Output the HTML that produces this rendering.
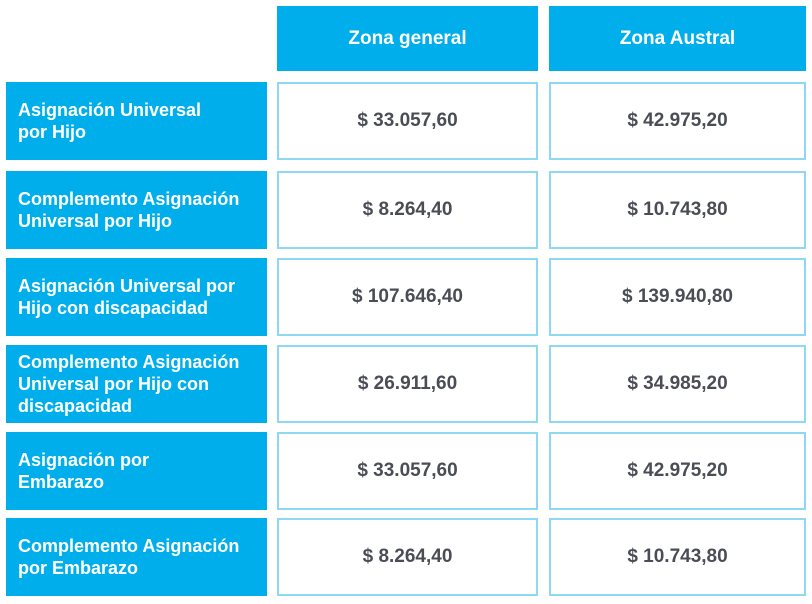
<!DOCTYPE html>
<html><head><meta charset="utf-8"><style>
body{margin:0;width:812px;height:604px;background:#fff;position:relative;font-family:"Liberation Sans",sans-serif;overflow:hidden}
.c{position:absolute;box-sizing:border-box;display:flex;align-items:center}
.h{background:#00aeeb;color:#fff;font-weight:bold;font-size:19px;justify-content:center}
.l{background:#00aeeb;color:#fff;font-weight:bold;font-size:18px;line-height:22px;padding-left:12px;padding-right:8px}
.v{border:2px solid #8fd8f5;color:#4a4d55;font-weight:bold;font-size:19px;justify-content:center}
</style></head><body>
<div class="c h" style="left:277px;top:6px;width:261px;height:65px">Zona general</div>
<div class="c h" style="left:549px;top:6px;width:257px;height:65px">Zona Austral</div>
<div id="rows"></div>
<script>
const labels=["Asignación Universal<br>por Hijo","Complemento Asignación<br>Universal por Hijo","Asignación Universal por<br>Hijo con discapacidad","Complemento Asignación<br>Universal por Hijo con<br>discapacidad","Asignación por<br>Embarazo","Complemento Asignación<br>por Embarazo"];
const general=["$ 33.057,60","$ 8.264,40","$ 107.646,40","$ 26.911,60","$ 33.057,60","$ 8.264,40"];
const austral=["$ 42.975,20","$ 10.743,80","$ 139.940,80","$ 34.985,20","$ 42.975,20","$ 10.743,80"];
const tops=[82,171,258,345,432,518];
const r=document.getElementById('rows');
labels.forEach((lb,i)=>{
 const t=tops[i];
 const a=document.createElement('div');a.className='c l';a.style.cssText=`left:6px;top:${t}px;width:261px;height:78px`;a.innerHTML=lb;
 
 
 r.appendChild(a);
 const b=document.createElement('div');b.className='c v';b.style.cssText=`left:277px;top:${t}px;width:261px;height:78px`;b.textContent=general[i];
 
 
 r.appendChild(b);
 const c=document.createElement('div');c.className='c v';c.style.cssText=`left:549px;top:${t}px;width:257px;height:78px`;c.textContent=austral[i];
 
 
 r.appendChild(c);
});
</script>
</body></html>
